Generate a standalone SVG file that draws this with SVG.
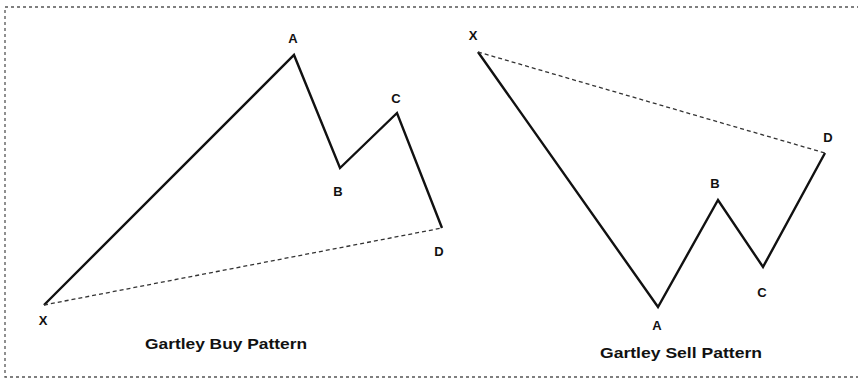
<svg xmlns="http://www.w3.org/2000/svg" width="858" height="383" viewBox="0 0 858 383">
<style>
.frame{fill:none;stroke:#555;stroke-width:1.3;stroke-dasharray:3 3}
.leg{fill:none;stroke:#111;stroke-width:2.4;stroke-linejoin:miter}
.ref{fill:none;stroke:#333;stroke-width:1.3;stroke-dasharray:4 3}
.pt{font-family:"Liberation Sans",Arial,sans-serif;font-weight:bold;font-size:13px;fill:#111;text-anchor:middle}
.title{font-family:"Liberation Sans",Arial,sans-serif;font-weight:bold;font-size:15px;fill:#111;text-anchor:middle}
</style>
<rect width="858" height="383" fill="#fff"/>
<rect class="frame" x="5" y="7" width="860" height="370"/>
<g id="connectors">
<polyline class="leg" points="44,305 294,55 340,168 397,113 442,228"/>
<line class="ref" x1="44" y1="305" x2="442" y2="228"/>
<polyline class="leg" points="478,52 658,307 718,200 763,267 825,153"/>
<line class="ref" x1="478" y1="52" x2="825" y2="153"/>
</g>
<g id="buy-X"><text class="pt" x="43" y="325">X</text></g>
<g id="buy-A"><text class="pt" x="293" y="43">A</text></g>
<g id="buy-B"><text class="pt" x="338" y="196">B</text></g>
<g id="buy-C"><text class="pt" x="396" y="103">C</text></g>
<g id="buy-D"><text class="pt" x="439" y="256">D</text></g>
<g id="buy-title"><text class="title" x="226" y="349" textLength="162" lengthAdjust="spacingAndGlyphs">Gartley Buy Pattern</text></g>
<g id="sell-X"><text class="pt" x="473" y="40">X</text></g>
<g id="sell-A"><text class="pt" x="657" y="330">A</text></g>
<g id="sell-B"><text class="pt" x="715" y="188">B</text></g>
<g id="sell-C"><text class="pt" x="762" y="297">C</text></g>
<g id="sell-D"><text class="pt" x="828" y="142">D</text></g>
<g id="sell-title"><text class="title" x="681" y="358" textLength="162" lengthAdjust="spacingAndGlyphs">Gartley Sell Pattern</text></g>
</svg>
